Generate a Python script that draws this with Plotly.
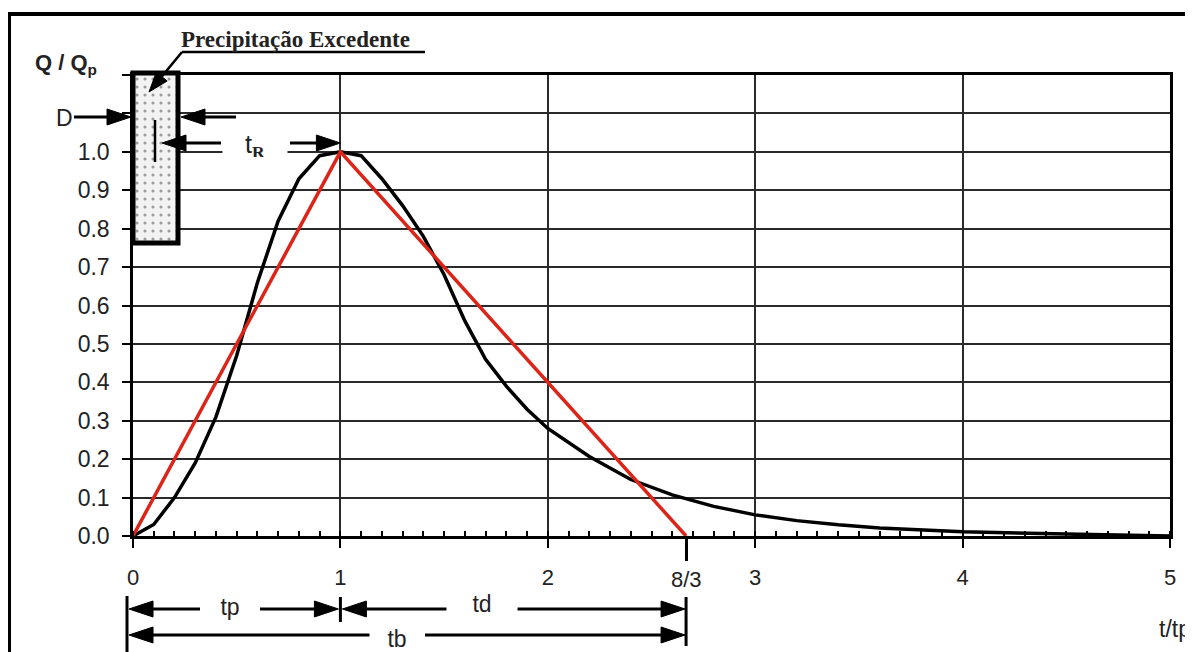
import math
import plotly.graph_objects as go

# ---------------- data ----------------
# SCS dimensionless unit hydrograph (black curve)
t_ratio = [0.0, 0.1, 0.2, 0.3, 0.4, 0.5, 0.6, 0.7, 0.8, 0.9, 1.0, 1.1, 1.2, 1.3, 1.4,
           1.5, 1.6, 1.7, 1.8, 1.9, 2.0, 2.2, 2.4, 2.6, 2.8, 3.0, 3.2, 3.4, 3.6, 3.8,
           4.0, 4.5, 5.0]
q_ratio = [0.000, 0.030, 0.100, 0.190, 0.310, 0.470, 0.660, 0.820, 0.930, 0.990, 1.000,
           0.990, 0.930, 0.860, 0.780, 0.680, 0.560, 0.460, 0.390, 0.330, 0.280, 0.207,
           0.147, 0.107, 0.077, 0.055, 0.040, 0.029, 0.021, 0.015, 0.011, 0.005, 0.000]
# triangular hydrograph (red)
tri_t = [0.0, 1.0, 8.0 / 3.0]
tri_q = [0.0, 1.0, 0.0]

x_tickvals = [0, 1, 2, 3, 4, 5]
x_ticktext = ["0", "1", "2", "3", "4", "5"]
x_special_vals = [8.0 / 3.0]
x_special_text = ["8/3"]
y_tickvals = [0.0, 0.1, 0.2, 0.3, 0.4, 0.5, 0.6, 0.7, 0.8, 0.9, 1.0, 1.1, 1.2]
y_ticktext = ["0.0", "0.1", "0.2", "0.3", "0.4", "0.5", "0.6", "0.7", "0.8", "0.9",
              "1.0", " ", " "]

t_peak = 1.0
t_base = 8.0 / 3.0

# ---------------- layout geometry (page pixel coordinates) ----------------
OFF = 8                      # default body margin of the page
PAGE_W, PAGE_H = 1193, 652
PL, PR, PT, PB = 133, 1170, 75, 536   # plot area on the page
W, H = PAGE_W - OFF, PAGE_H - OFF
PW, PH = PR - PL, PB - PT
XMAX, YMAX = 5.0, 1.2
FONT = "Arial, Liberation Sans, sans-serif"
SERIF = "Times New Roman, Liberation Serif, serif"


def xp(px):
    return (px - PL) / PW


def yp(py):
    return (PB - py) / PH


def dx2px(x):
    return PL + x / XMAX * PW


def px2dx(px):
    return (px - PL) / PW * XMAX


def py2dy(py):
    return (PB - py) / PH * YMAX


shapes = []


def line(x0, y0, x1, y1, w=3):
    shapes.append(dict(type="line", xref="paper", yref="paper",
                       x0=xp(x0), y0=yp(y0), x1=xp(x1), y1=yp(y1),
                       line=dict(color="black", width=w), layer="above"))


def arrow(x0, y0, x1, y1, hl=24, hw=8, w=3):
    dx, dy = x1 - x0, y1 - y0
    L = math.hypot(dx, dy)
    ux, uy = dx / L, dy / L
    bx, by = x1 - ux * hl, y1 - uy * hl
    line(x0, y0, bx + ux * 2, by + uy * 2, w)
    nx, ny = -uy, ux
    p1 = (bx + nx * hw, by + ny * hw)
    p2 = (bx - nx * hw, by - ny * hw)
    path = "M {:.5f},{:.5f} L {:.5f},{:.5f} L {:.5f},{:.5f} Z".format(
        xp(x1), yp(y1), xp(p1[0]), yp(p1[1]), xp(p2[0]), yp(p2[1]))
    shapes.append(dict(type="path", xref="paper", yref="paper", path=path,
                       fillcolor="black", line=dict(color="black", width=1), layer="above"))


fig = go.Figure()

# dotted "precipitação excedente" block
bx0, bx1 = px2dx(133), px2dx(178)
by0, by1 = py2dy(243), YMAX
fig.add_trace(go.Scatter(
    x=[bx0, bx1, bx1, bx0, bx0], y=[by0, by0, by1, by1, by0],
    mode="lines", line=dict(width=0), fill="toself", fillcolor="#f3f3f3",
    fillpattern=dict(shape=".", fgcolor="#444444", bgcolor="#f3f3f3", size=8, solidity=0.12),
    hoverinfo="skip", showlegend=False))

fig.add_trace(go.Scatter(x=t_ratio, y=q_ratio, mode="lines",
                         line=dict(color="black", width=3.5), showlegend=False))
fig.add_trace(go.Scatter(x=tri_t, y=tri_q, mode="lines",
                         line=dict(color="#dc2418", width=3.5), showlegend=False))
# invisible trace so the 8/3 tick axis is drawn
fig.add_trace(go.Scatter(x=x_special_vals, y=[0], xaxis="x2", mode="markers",
                         marker=dict(opacity=0), hoverinfo="skip", showlegend=False))

# outer frame
shapes.append(dict(type="rect", xref="paper", yref="paper",
                   x0=xp(9), y0=yp(14), x1=xp(1215), y1=yp(680),
                   line=dict(color="black", width=4), fillcolor="rgba(0,0,0,0)", layer="above"))
# block border
shapes.append(dict(type="rect", xref="paper", yref="paper",
                   x0=xp(133), y0=yp(73), x1=xp(178), y1=yp(243),
                   line=dict(color="black", width=5), fillcolor="rgba(0,0,0,0)", layer="above"))
line(155, 120, 155, 162, 2.5)

# D arrows
arrow(74, 117, 131, 117)
arrow(236, 117, 181, 117)
# tR arrows
arrow(221, 143, 162, 143)
arrow(290, 143, dx2px(t_peak), 143)
# precipitation leader
line(182, 52, 425, 52, 2.5)
arrow(182, 52, 149, 92, hl=20, hw=7, w=2.5)

# bottom dimension lines
x0p, x1p, xbp = 127, dx2px(t_peak), dx2px(t_base)
line(x0p, 596, x0p, 670, 3)
line(x1p, 597, x1p, 622, 3)
line(xbp, 597, xbp, 646, 3)
arrow(200, 609, x0p + 2, 609)
arrow(260, 609, x1p - 2, 609)
arrow(450, 609, x1p + 2, 609)
arrow(510, 609, xbp - 1, 609)
arrow(370, 635, x0p + 2, 635)
arrow(425, 635, xbp - 1, 635)


def txt(text, x, y, size=23, family=FONT, **kw):
    d = dict(text=text, x=xp(x), y=yp(y), xref="paper", yref="paper", showarrow=False,
             font=dict(family=family, size=size, color="#222"), xanchor="center",
             yanchor="middle")
    d.update(kw)
    return d


annotations = [
    txt("<b>Precipitação Excedente</b>", 295, 39, size=23, family=SERIF),
    txt("<b>Q / Q<sub>p</sub></b>", 33, 64, size=22, xanchor="left"),
    txt("D", 64, 118),
    txt("t<sub><span style='font-family:Liberation Serif'><b>R</b></span></sub>", 255, 146,
        size=25, bgcolor="white", width=64, height=22, borderpad=0),
    txt("tp", 230, 607, bgcolor="white", width=58, borderpad=0),
    txt("td", 482, 604, bgcolor="white", width=70, borderpad=0),
    txt("tb", 397, 639, bgcolor="white", width=54, borderpad=0),
    txt("t/tp", 1175, 629),
    dict(text=x_special_text[0], x=x_special_vals[0], xref="x", y=yp(579), yref="paper",
         showarrow=False, font=dict(family=FONT, size=22, color="#222"),
         xanchor="center", yanchor="middle"),
]

fig.update_layout(
    width=W, height=H,
    margin=dict(l=PL - OFF, r=PAGE_W - PR, t=PT - OFF, b=PAGE_H - PB, pad=0),
    paper_bgcolor="white", plot_bgcolor="white",
    showlegend=False,
    shapes=shapes, annotations=annotations,
    font=dict(family=FONT, size=22, color="#222"),
    xaxis=dict(range=[0, XMAX], tickmode="array", tickvals=x_tickvals, ticktext=x_ticktext,
               showgrid=True, gridcolor="#2a2a2a", gridwidth=1.5, zeroline=False,
               showline=True, linecolor="black", linewidth=2.5, mirror=True,
               ticks="outside", ticklen=9, tickwidth=2, tickcolor="black",
               ticklabelstandoff=11, tickfont=dict(size=22, color="#222"),
               minor=dict(dtick=0.1, ticks="inside", ticklen=5, tickwidth=1.5,
                          tickcolor="black", showgrid=False)),
    xaxis2=dict(range=[0, XMAX], overlaying="x", side="bottom", anchor="y",
                tickmode="array", tickvals=x_special_vals, ticktext=x_special_text,
                showticklabels=False,
                showgrid=False, zeroline=False, showline=False,
                ticks="outside", ticklen=24, tickwidth=2.5, tickcolor="black"),
    yaxis=dict(range=[0, YMAX], tickmode="array", tickvals=y_tickvals, ticktext=y_ticktext,
               showgrid=True, gridcolor="#2a2a2a", gridwidth=1.5, zeroline=False,
               showline=True, linecolor="black", linewidth=2.5, mirror=True,
               ticks="outside", ticklen=8, tickwidth=2, tickcolor="black",
               ticklabelstandoff=8, tickfont=dict(size=23, color="#222")),
)

fig.write_html("out.html")
